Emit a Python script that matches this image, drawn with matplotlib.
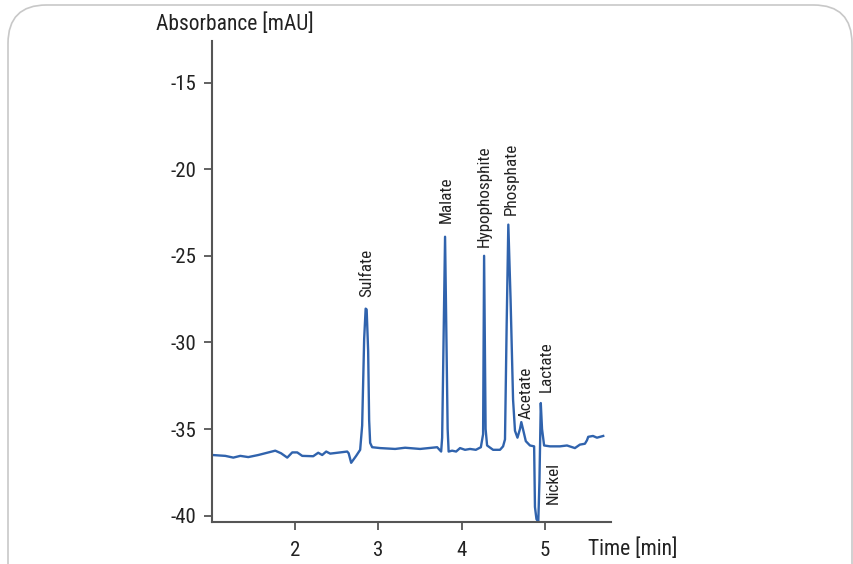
import matplotlib
matplotlib.use("Agg")
import matplotlib.pyplot as plt
from matplotlib.patches import FancyBboxPatch

plt.rcParams['font.family'] = ['Roboto Condensed', 'Liberation Sans Narrow', 'Roboto', 'DejaVu Sans']

# ---- data ----
time_min = [1.004, 1.16, 1.256, 1.34, 1.436, 1.556, 1.76, 1.83, 1.904, 1.964, 2.024, 2.084,
            2.216, 2.276, 2.324, 2.372, 2.42, 2.54, 2.624, 2.642, 2.672, 2.732, 2.78, 2.804,
            2.828, 2.846, 2.858, 2.876, 2.888, 2.90, 2.924, 3.02, 3.2, 3.32, 3.50, 3.705, 3.753, 3.765,
            3.80, 3.831, 3.843, 3.885, 3.933, 3.98, 4.04, 4.10, 4.17, 4.23, 4.257, 4.269,
            4.287, 4.305, 4.377, 4.46, 4.497, 4.52, 4.54, 4.56, 4.587, 4.617, 4.64, 4.67,
            4.70, 4.716, 4.736, 4.77, 4.82, 4.87, 4.88, 4.898, 4.92, 4.934, 4.95, 4.965,
            4.99, 5.06, 5.18, 5.265, 5.36, 5.42, 5.48, 5.505, 5.52, 5.577, 5.625, 5.70]
absorbance = [-36.5, -36.55, -36.65, -36.55, -36.62, -36.5, -36.25, -36.4, -36.65, -36.35, -36.35, -36.55,
              -36.57, -36.37, -36.5, -36.3, -36.42, -36.35, -36.3, -36.4, -36.95, -36.55, -36.2, -34.8,
              -29.8, -28.05, -28.1, -30.5, -34.5, -35.8, -36.05, -36.1, -36.15, -36.08, -36.15, -36.05, -36.3, -35.5,
              -23.9, -35.0, -36.3, -36.25, -36.3, -36.1, -36.2, -36.15, -36.2, -36.05, -35.3, -25.0,
              -35.0, -35.95, -36.2, -36.2, -36.0, -35.6, -29.0, -23.2, -27.5, -33.3, -35.1, -35.5,
              -35.0, -34.6, -35.0, -35.7, -35.95, -36.0, -39.5, -40.2, -40.35, -38.0, -33.5, -35.0,
              -35.95, -36.0, -36.0, -35.95, -36.1, -35.9, -35.85, -35.65, -35.45, -35.4, -35.5, -35.4]

peak_names = ["Sulfate", "Malate", "Hypophosphite", "Phosphate", "Acetate", "Lactate", "Nickel"]
x_ticks = [2, 3, 4, 5]
y_ticks = [-40, -35, -30, -25, -20, -15]

# label anchor positions (layout)
label_pos = [(2.864, -27.35, 'bottom'), (3.82, -23.1, 'bottom'), (4.27, -24.5, 'bottom'),
             (4.60, -22.65, 'bottom'), (4.77, -34.4, 'bottom'), (5.02, -32.85, 'bottom'),
             (5.10, -36.9, 'top')]

W, H = 854, 564
fig = plt.figure(figsize=(W / 100, H / 100), dpi=100)

# rounded frame
frame = FancyBboxPatch((8 / W, -40 / H), 844 / W, (H - 5 + 40) / H,
                       boxstyle="round,pad=0,rounding_size=0.045",
                       transform=fig.transFigure, fill=False, ec="#c8c8c8", lw=1.2,
                       mutation_aspect=W / H)
fig.patches.append(frame)

ax = fig.add_axes([212 / W, 1 - 521.7 / H, (610.7 - 212) / W, (521.7 - 41) / H])
ax.plot(time_min, absorbance, color="#3063ad", lw=1.7, solid_joinstyle='round')

ax.set_xlim(1.0, 5.79)
ax.set_ylim(-40.35, -12.6)
ax.set_xticks(x_ticks)
ax.set_yticks(y_ticks)
ax.set_xticklabels([str(t) for t in x_ticks])
ax.set_yticklabels([str(t) for t in y_ticks])

for s in ['top', 'right']:
    ax.spines[s].set_visible(False)
for s in ['left', 'bottom']:
    ax.spines[s].set_color("#555555")
    ax.spines[s].set_linewidth(1.5)
ax.tick_params(axis='both', direction='out', width=1.3, color="#555555",
               labelsize=15, labelcolor="#222222")
ax.tick_params(axis='y', length=6, pad=5)
ax.tick_params(axis='x', length=6, pad=8)

for name, (x, y, va) in zip(peak_names, label_pos):
    ax.text(x, y, name, rotation=90, ha='center', va=va, fontsize=12.3, color="#222222")

fig.text(234.5 / W, 1 - 24 / H, "Absorbance [mAU]", ha='center', va='center', fontsize=15.5, color="#222222")
fig.text(633 / W, 1 - 549 / H, "Time [min]", ha='center', va='center', fontsize=15.5, color="#222222")

fig.savefig("out.png", dpi=100)
